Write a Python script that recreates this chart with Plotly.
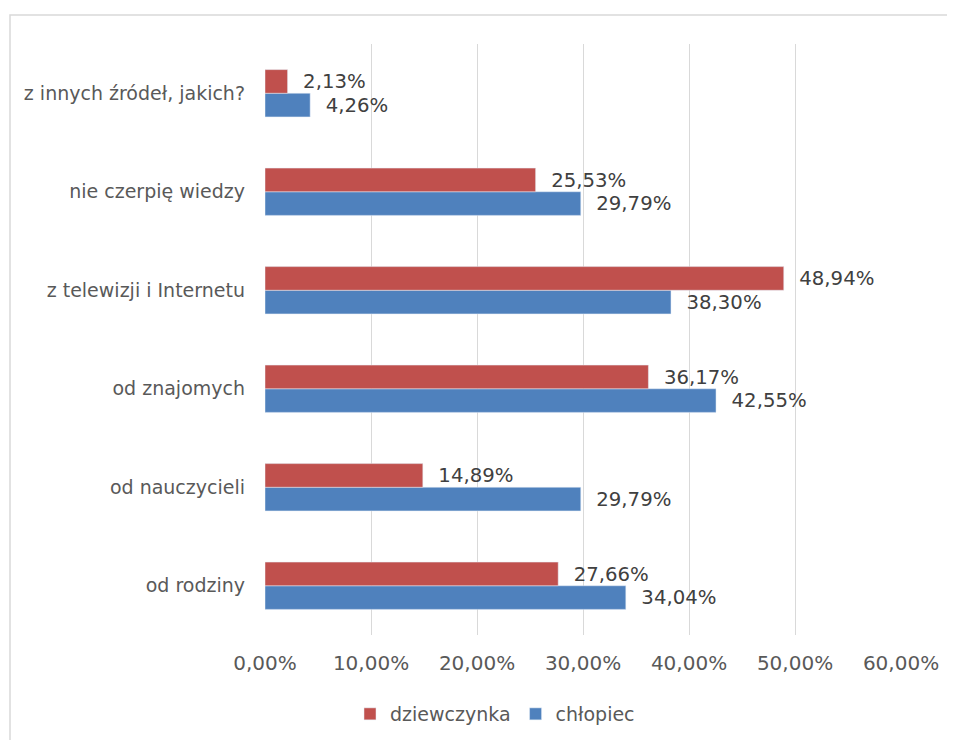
import plotly.graph_objects as go

categories = ["od rodziny", "od nauczycieli", "od znajomych",
              "z telewizji i Internetu", "nie czerpię wiedzy", "z innych źródeł, jakich?"]
dziewczynka = [27.66, 14.89, 36.17, 48.94, 25.53, 2.13]
chlopiec = [34.04, 29.79, 42.55, 38.30, 29.79, 4.26]
tick_vals = [0, 10, 20, 30, 40, 50, 60]
tick_text = ["0,00%", "10,00%", "20,00%", "30,00%", "40,00%", "50,00%", "60,00%"]

FONT = "DejaVu Sans"
GREY = "#595959"

fig = go.Figure()
fig.add_trace(go.Bar(
    y=categories, x=chlopiec, orientation="h", name="chłopiec",
    marker=dict(color="#4F81BD"),
    texttemplate="\u00a0\u00a0%{x:.2f}%", textposition="outside",
    textfont=dict(family=FONT, size=20, color="#404040"), cliponaxis=False,
))
fig.add_trace(go.Bar(
    y=categories, x=dziewczynka, orientation="h", name="dziewczynka",
    marker=dict(color="#C0504D"),
    texttemplate="\u00a0\u00a0%{x:.2f}%", textposition="outside",
    textfont=dict(family=FONT, size=20, color="#404040"), cliponaxis=False,
))

OFF = 8  # page body margin
W, H = 955 - OFF, 740 - OFF
L, T = 265 - OFF, 44 - OFF
R = W - (901 - OFF)
B = H - (635 - OFF)
pw, ph = W - L - R, H - T - B

def px(x):
    return (x - OFF - L) / pw

def py(y):
    return (H - B - (y - OFF)) / ph

fig.update_layout(
    width=W, height=H,
    margin=dict(l=L, r=R, t=T, b=B, autoexpand=False),
    paper_bgcolor="white", plot_bgcolor="white",
    barmode="group", bargap=0.52, bargroupgap=0.0,
    separators=", ",
    font=dict(family=FONT, color=GREY),
    xaxis=dict(range=[0, 60], tickvals=tick_vals, ticktext=tick_text,
               showgrid=True, gridcolor="#D9D9D9", gridwidth=1.3,
               zeroline=False, showline=False, ticks="", automargin=False,
               ticklabelstandoff=14,
               tickfont=dict(family=FONT, size=20, color=GREY)),
    yaxis=dict(categoryorder="array", categoryarray=categories,
               showgrid=False, zeroline=False, showline=False, ticks="",
               automargin=False, ticklabelstandoff=19,
               tickfont=dict(family=FONT, size=19, color=GREY)),
    legend=dict(orientation="h", x=px(495), y=py(714), xanchor="center", yanchor="middle",
                traceorder="reversed", font=dict(family=FONT, size=19, color=GREY)),
    shapes=[dict(type="rect", xref="paper", yref="paper",
                 x0=px(10), x1=px(975), y0=py(15), y1=py(760),
                 line=dict(color="#D9D9D9", width=1.5), fillcolor="rgba(0,0,0,0)", layer="below")],
)

fig.write_html("out.html")
